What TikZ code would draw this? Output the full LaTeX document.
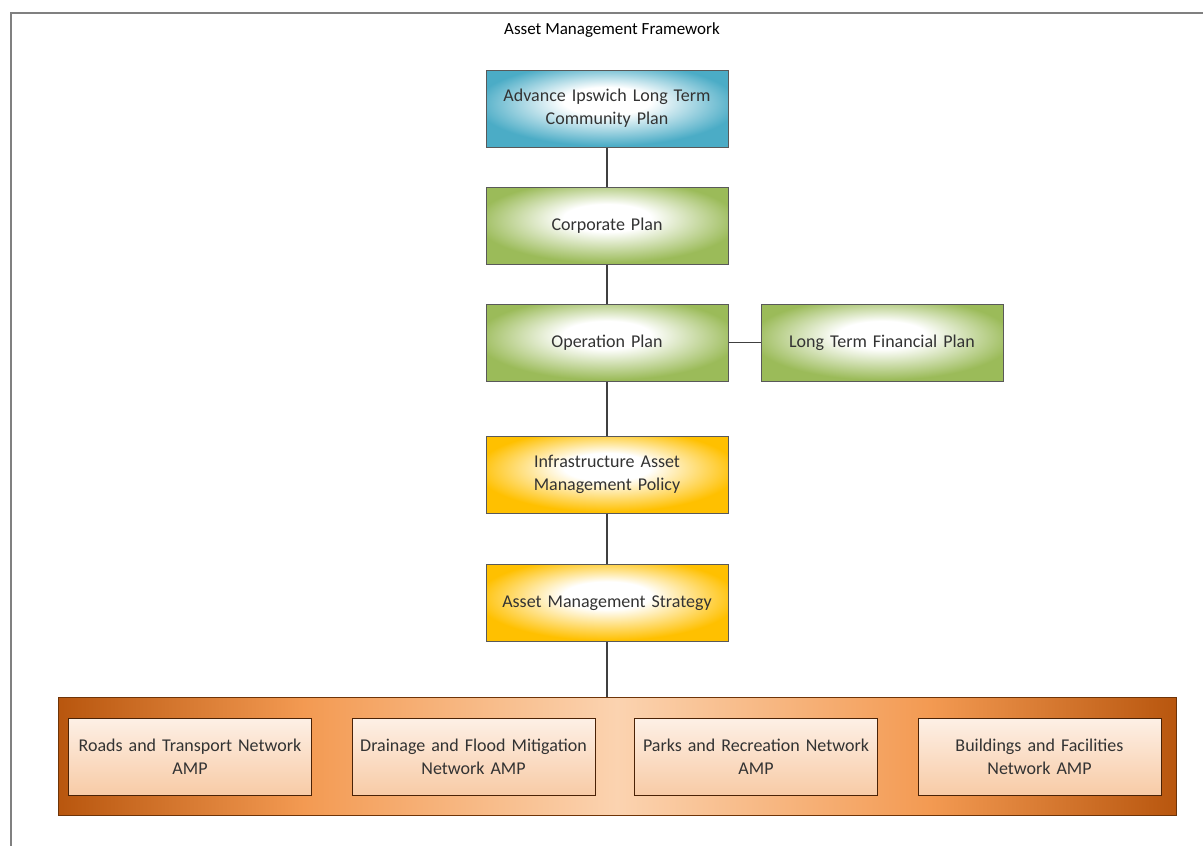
\documentclass[tikz,border=0pt]{standalone}
\usepackage{fontspec}
\setmainfont{Carlito}
\definecolor{aquaC}{HTML}{4BACC6}
\definecolor{greenC}{HTML}{9BBB59}
\definecolor{goldC}{HTML}{FFC000}
\definecolor{orangeD}{HTML}{B8560E}
\definecolor{orangeM}{HTML}{F39A52}
\definecolor{orangeL}{HTML}{FBD3B0}
\definecolor{peachT}{HTML}{FDF0E6}
\definecolor{peachB}{HTML}{F8CBA6}
\definecolor{boxtext}{HTML}{333333}
\pgfdeclareradialshading{aquaglow}{\pgfpoint{0bp}{6bp}}{color(0bp)=(white); color(9bp)=(white); color(27bp)=(aquaC); color(50bp)=(aquaC)}
\pgfdeclareradialshading{greenglow}{\pgfpoint{0bp}{6bp}}{color(0bp)=(white); color(9bp)=(white); color(27bp)=(greenC); color(50bp)=(greenC)}
\pgfdeclareradialshading{goldglow}{\pgfpoint{0bp}{6bp}}{color(0bp)=(white); color(9bp)=(white); color(27bp)=(goldC); color(50bp)=(goldC)}
\pgfdeclarehorizontalshading{ampglow}{100bp}{color(0bp)=(orangeD); color(25bp)=(orangeD); color(36bp)=(orangeM); color(50bp)=(orangeL); color(64bp)=(orangeM); color(75bp)=(orangeD); color(100bp)=(orangeD)}
\tikzstyle{plan} = [rectangle, minimum width=242pt, minimum height=77pt, text width=230pt, align=center, draw=black!65, line width=1pt, text=boxtext, font=\fontsize{18}{23}\selectfont]
\tikzstyle{blueplan} = [plan, shade, shading=aquaglow]
\tikzstyle{greenplan} = [plan, shade, shading=greenglow]
\tikzstyle{goldplan} = [plan, shade, shading=goldglow]
\tikzstyle{ampframe} = [rectangle, minimum width=1118pt, minimum height=118pt, draw=orangeD!60!black, line width=1pt, shade, shading=ampglow]
\tikzstyle{ampbox} = [plan, minimum width=243pt, draw=orangeD!40!black, top color=peachT, bottom color=peachB]
\tikzstyle{link} = [line width=1.2pt, draw=black!75]

\begin{document}
\begin{tikzpicture}[node distance=117pt]
\useasboundingbox (0,0) rectangle (1203pt,-846pt);
\draw [gray, line width=1.5pt] (11pt,-846pt) -- (11pt,-13pt) -- (1203pt,-13pt);

\node (title) [text=black, font=\fontsize{17}{20}\selectfont] at (612pt,-30pt) {Asset Management Framework};

\node (community) [blueplan] at (607pt,-108.5pt) {Advance Ipswich Long Term\\Community Plan};

\node (corporate) [greenplan, below of=community] {Corporate Plan};

\node (operation) [greenplan, below of=corporate] {Operation Plan};

\node (finance) [greenplan, right of=operation, xshift=158pt] {Long Term Financial Plan};

\node (policy) [goldplan, below of=operation, yshift=-15pt] {Infrastructure Asset\\Management Policy};

\node (strategy) [goldplan, below of=policy, yshift=-11.5pt] {Asset Management Strategy};

\node (amps) [ampframe, below of=strategy, yshift=-36pt, xshift=10pt] {};
\node (roads) [ampbox] at (190pt,-756.5pt) {Roads and Transport Network\\AMP};
\node (drainage) [ampbox, right of=roads, node distance=283.5pt] {Drainage and Flood Mitigation\\Network AMP};
\node (parks) [ampbox, right of=drainage, node distance=282.5pt] {Parks and Recreation Network\\AMP};
\node (buildings) [ampbox, right of=parks, node distance=283.5pt] {Buildings and Facilities\\Network AMP};

\draw [link] (community) -- (corporate);
\draw [link] (corporate) -- (operation);
\draw [link] (operation) -- (finance);
\draw [link] (operation) -- (policy);
\draw [link] (policy) -- (strategy);
\draw [link] (strategy.south) -- (strategy.south |- amps.north);
\end{tikzpicture}
\end{document}
